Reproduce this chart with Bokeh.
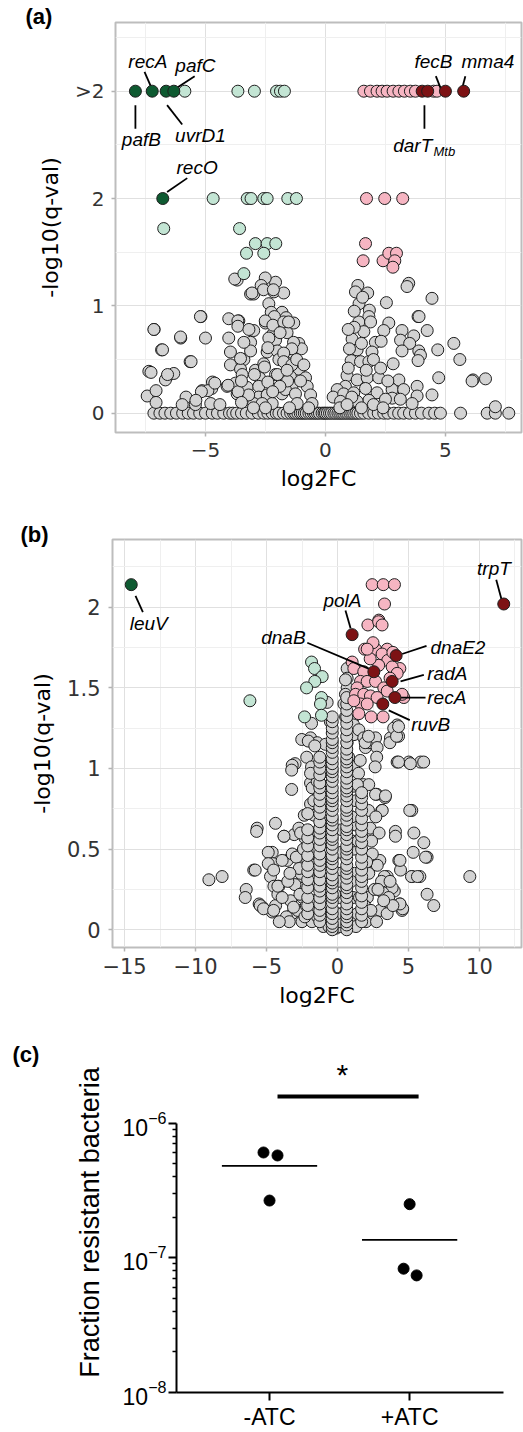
from bokeh.plotting import figure
from bokeh.layouts import column
from bokeh.models import Range1d, FixedTicker
from bokeh.core.properties import value
from bokeh.embed import file_html
from bokeh.resources import INLINE

# ======================= DATA =======================
# ---- Panel (a) ----
a_gray_base_x = [-7.15, -6.9, -6.69, -6.45, -6.21, -5.95, -5.72, -5.5, -5.24, -5.0, -4.72, -4.5, -4.24, -4.0,
                 -3.86, -3.7, -3.5, -3.3, -3.06, -2.8, -2.57, -2.4, -2.22, -2.05, -1.94, -1.75, -1.6, -1.45,
                 -1.33, -1.25, -1.15, -1.05, -0.97, -0.88, -0.8, -0.69, -0.6, -0.5, -0.42, -0.33, -0.25, -0.14,
                 -0.06, 0.0, 0.08, 0.17, 0.25, 0.35, 0.43, 0.52, 0.6, 0.68, 0.76, 0.85, 0.93, 1.02, 1.1, 1.18,
                 1.27, 1.35, 1.46, 1.6, 1.8, 2.01, 2.2, 2.43, 2.6, 2.85, 3.05, 3.26, 3.5, 3.75, 4.0, 4.31, 4.55,
                 4.79, 5.63, 6.74, 7.08, 7.64]
a_gray_pts = [
    (-7.43, 0.16), (-7.06, 0.21), (-7.06, 0.10), (-7.36, 0.39), (-6.6, 0.34), (-6.32, 0.37), (-6.67, 0.31),
    (-6.83, 0.59), (-7.14, 0.78), (-6.03, 0.70), (-5.64, 0.48), (-5.19, 0.90), (-5.0, 0.70), (-5.81, 0.15),
    (-5.97, 0.08), (-5.42, 0.08), (-5.14, 0.21), (-4.74, 0.23), (-4.71, 0.29), (-4.78, 0.09), (-4.10, 0.25),
    (-4.03, 0.70), (-4.03, 0.88), (-3.61, 0.86), (-3.96, 0.57), (-3.96, 0.45), (-3.40, 0.50), (-3.54, 0.41),
    (-3.75, 0.28), (-3.68, 0.18), (-3.47, 0.36), (-3.26, 0.24), (-3.12, 0.66), (-3.12, 0.58), (-2.92, 0.40),
    (-2.75, 0.33), (-2.78, 0.25), (-2.78, 0.15), (-2.99, 0.77), (-2.50, 0.84), (-2.57, 0.46), (-2.43, 0.57),
    (-2.36, 1.02), (-3.12, 1.11), (-2.99, 1.11), (-2.36, 1.19), (-2.15, 1.13), (-1.74, 1.12), (-2.08, 1.22),
    (-3.68, 1.24), (-2.15, 0.82), (-2.22, 0.73), (-2.08, 0.68), (-2.01, 0.58), (-1.94, 0.50), (-2.08, 0.36),
    (-1.81, 0.94), (-1.64, 0.89), (-1.32, 0.84), (-1.60, 0.75), (-1.46, 0.57), (-1.11, 0.65), (-1.00, 0.60),
    (-1.11, 0.41), (-1.46, 0.34), (-1.39, 0.26), (-1.81, 0.18), (-1.67, 0.22), (-1.25, 0.18), (-0.83, 0.33),
    (-0.76, 0.25), (-0.62, 0.17), (-0.56, 0.09), (-1.18, 0.09), (-2.43, 0.17), (-2.22, 0.09), (-2.99, 0.09),
    (-3.20, 0.17), (-2.64, 0.09),
    (-3.78, 1.25), (-2.51, 1.26), (-2.68, 1.19), (-3.06, 1.12), (-2.58, 1.15), (-2.17, 1.15), (-2.26, 0.94),
    (-2.13, 0.90), (-3.65, 0.86), (-3.65, 0.81), (-5.21, 0.90), (-7.15, 0.78), (-6.04, 0.71), (-6.79, 0.59),
    (-5.60, 0.48), (-7.27, 0.38), (-6.58, 0.36), (-2.51, 0.86), (-2.19, 0.82), (-1.74, 0.85), (-1.54, 0.85),
    (-1.89, 0.75), (-3.19, 0.78), (-3.40, 0.66), (-2.36, 0.70), (-2.40, 0.61), (-1.33, 0.66), (-1.40, 0.60),
    (-3.54, 0.51), (-1.74, 0.56), (-1.74, 0.48), (-1.40, 0.45), (-4.90, 0.21), (-5.17, 0.20), (-4.61, 0.28),
    (-4.06, 0.26), (-3.64, 0.20), (-3.50, 0.30), (-2.96, 0.36), (-2.54, 0.43), (-2.40, 0.29), (-2.00, 0.36),
    (-1.58, 0.30), (-1.04, 0.30), (-1.90, 0.25), (-2.20, 0.20), (-1.60, 0.40), (-1.20, 0.50), (-0.90, 0.45),
    (-0.70, 0.05), (-1.50, 0.05), (-2.50, 0.05), (-3.00, 0.05), (-3.50, 0.10), (-4.40, 0.08), (-5.40, 0.12),
    (1.35, 1.19), (1.25, 1.13), (1.76, 1.12), (3.47, 1.21), (3.40, 1.18), (2.54, 1.03), (4.44, 1.07),
    (1.83, 0.96), (1.81, 0.90), (1.39, 0.85), (1.88, 0.85), (2.64, 0.84), (3.86, 0.90), (1.60, 0.76),
    (2.43, 0.77), (3.19, 0.77), (3.68, 0.72), (4.24, 0.77), (1.11, 0.69), (2.08, 0.66), (2.32, 0.67),
    (3.13, 0.68), (3.51, 0.65), (5.35, 0.65), (1.32, 0.59), (1.94, 0.57), (3.19, 0.58), (3.89, 0.58),
    (3.96, 0.54), (4.68, 0.59), (1.07, 0.49), (1.46, 0.48), (1.81, 0.48), (2.82, 0.46), (3.86, 0.49),
    (5.60, 0.50), (0.90, 0.35), (1.32, 0.31), (1.74, 0.33), (2.22, 0.33), (3.06, 0.31), (4.72, 0.33),
    (6.15, 0.31), (6.67, 0.32), (6.11, 0.30), (3.82, 0.25), (4.44, 0.17), (0.83, 0.25), (0.49, 0.22),
    (0.32, 0.15), (0.76, 0.18), (1.18, 0.19), (1.67, 0.23), (2.15, 0.19), (2.78, 0.22), (3.26, 0.22),
    (2.78, 0.14), (3.82, 0.16), (2.50, 0.13), (1.81, 0.12), (1.32, 0.11), (3.61, 0.09), (0.63, 0.11),
    (3.12, 0.13), (7.08, 0.06), (3.90, 0.90), (0.95, 0.42), (1.00, 0.60), (1.20, 0.80), (1.50, 0.65),
    (1.70, 0.40), (2.00, 0.50), (2.30, 0.42), (2.60, 0.30), (1.10, 0.15), (1.50, 0.05), (2.00, 0.08),
    (2.40, 0.05), (0.60, 0.05), (0.90, 0.08), (1.40, 1.02), (1.55, 1.08), (1.20, 0.95), (0.95, 0.78),
]
a_lgreen_x = [-5.86, -3.65, -2.96, -2.04, -1.875, -1.71,
              -4.68, -3.26, -3.10, -2.57, -2.43, -1.57, -1.21,
              -6.74, -3.58, -2.92, -2.43, -2.07, -3.29, -2.57, -3.40]
a_lgreen_y = [3, 3, 3, 3, 3, 3,
              2, 2, 2, 2, 2, 2, 2,
              1.72, 1.72, 1.58, 1.58, 1.58, 1.49, 1.49, 1.30]
a_pink_x = [1.6, 1.875, 2.15, 2.36, 2.57, 2.82, 3.06, 3.29, 3.54, 3.75, 4.51, 4.65,
            1.71, 2.47, 3.22,
            1.67, 1.57, 2.40, 2.64, 2.96, 2.89, 2.81]
a_pink_y = [3, 3, 3, 3, 3, 3, 3, 3, 3, 3, 3, 3,
            2, 2, 2,
            1.58, 1.42, 1.42, 1.49, 1.49, 1.42, 1.36]
a_dgreen_genes = ["pafB", "recA", "uvrD1", "pafC", "recO"]
a_dgreen_x = [-7.92, -7.22, -6.64, -6.32, -6.78]
a_dgreen_y = [3, 3, 3, 3, 2]
a_dred_genes = ["darT", "darT", "fecB", "mma4"]
a_dred_x = [4.03, 4.26, 5.0, 5.76]
a_dred_y = [3, 3, 3, 3]
a_yticks = [0, 1, 2, 3]
a_ytick_labels = ["0", "1", "2", ">2"]

# ---- Panel (b) ----
b_gray_pts = [
    (0.68, 1.62), (0.68, 1.56), (0.68, 1.50), (0.56, 1.55), (0.56, 1.46), (0.45, 1.40), (-0.73, 1.41),
    (-0.5, 1.29), (-1.83, 1.28), (-1.9, 1.19), (-1.43, 1.16), (-0.85, 1.15), (0.57, 1.32), (0.92, 1.28),
    (1.13, 1.32), (1.13, 1.27), (0.68, 1.19), (1.15, 1.21), (1.5, 1.24), (1.85, 1.19), (1.97, 1.13),
    (2.2, 1.16), (2.68, 1.19), (2.79, 1.13), (3.73, 1.19), (4.2, 1.27), (3.96, 1.25), (4.3, 1.20),
    (4.2, 1.04), (5.02, 1.04), (5.85, 1.04), (-2.99, 1.03),
    (-3.19, 1.02), (-3.23, 0.99), (-3.23, 0.87), (-2.52, 1.18), (-2.06, 1.17), (-1.6, 1.14), (-2.17, 1.07),
    (-1.83, 1.01), (-1.48, 0.95), (-0.77, 0.98), (-1.9, 0.91), (-1.48, 0.89), (-0.77, 0.89), (-1.4, 0.82),
    (-1.9, 0.78), (-2.34, 0.71), (-1.64, 0.71), (-0.77, 0.73), (0.68, 1.16), (0.78, 1.07), (1.13, 1.01),
    (1.48, 0.97), (1.13, 0.89), (1.83, 0.90), (1.95, 1.16), (2.18, 1.20), (2.76, 1.07), (2.65, 1.01),
    (2.76, 0.84), (3.35, 0.82), (4.3, 1.04), (5.13, 1.03), (6.07, 1.04), (3.69, 1.16), (4.16, 1.20),
    (4.3, 1.26), (5.23, 0.74), (2.18, 0.74), (3.12, 0.74), (-4.37, 0.66), (-5.66, 0.63),
    (-5.7, 0.61), (-3.76, 0.58), (-3.05, 0.59), (-2.63, 0.62), (-2.3, 0.57), (-4.6, 0.48), (-4.55, 0.41),
    (-3.54, 0.43), (-2.84, 0.46), (-2.14, 0.49), (-5.9, 0.37), (-4.72, 0.33), (-4.48, 0.27), (-4.13, 0.27),
    (-9.06, 0.31), (-8.13, 0.33), (-6.43, 0.25), (-6.5, 0.20), (-5.52, 0.16), (-5.29, 0.14), (-4.36, 0.15),
    (-4.2, 0.22), (-4.6, 0.11), (-3.05, 0.11), (-2.46, 0.20), (-2.35, 0.26), (-2.46, 0.33), (-1.99, 0.37),
    (-2.1, 0.43), (-2.1, 0.72), (-1.67, 0.80), (-1.78, 0.88), (-1.43, 0.92), (-1.9, 0.97),
    (2.68, 0.84), (3.38, 0.83), (5.09, 0.74), (3.15, 0.74), (4.08, 0.61), (4.08, 0.58), (5.38, 0.60),
    (6.08, 0.54), (5.33, 0.48), (6.31, 0.45), (4.32, 0.43), (4.44, 0.37), (5.26, 0.33), (5.8, 0.33),
    (9.32, 0.33), (3.5, 0.33), (6.31, 0.22), (6.78, 0.15), (4.39, 0.16), (4.55, 0.12), (4.0, 0.24),
    (3.38, 0.26), (2.98, 0.43), (2.45, 0.47), (2.3, 0.63), (2.93, 0.60),
    (-5.8, 0.37), (-5.45, 0.15), (-5.21, 0.13), (-4.88, 0.48), (-4.88, 0.41), (-4.5, 0.37), (-4.2, 0.27),
    (-4.5, 0.12), (-3.9, 0.43), (-3.77, 0.58), (-3.19, 0.10), (-3.19, 0.47), (-2.72, 0.63), (4.4, 0.43),
    (4.59, 0.13), (4.4, 0.16), (6.2, 0.45), (5.21, 0.33), (5.63, 0.33), (3.3, 0.33), (3.85, 0.26),
    (3.19, 0.23),
    (-3.6, 0.08), (-3.3, 0.18), (-3.0, 0.28), (-2.8, 0.12), (-2.6, 0.35), (-2.5, 0.05), (-2.2, 0.15),
    (-2.0, 0.28), (-1.8, 0.05), (-1.7, 0.18), (-1.6, 0.40), (-1.5, 0.55), (-1.55, 0.30), (-1.0, 0.02),
    (-0.9, 0.15), (-0.85, 0.35), (-0.8, 0.50), (-0.75, 0.60), (-0.6, 0.02), (-0.1, 0.01), (0.2, 0.02),
    (0.3, 0.10), (1.0, 0.05), (1.1, 0.20), (1.2, 0.35), (1.15, 0.50), (1.25, 0.65), (1.3, 0.80),
    (1.4, 0.10), (2.0, 0.05), (2.1, 0.20), (2.2, 0.35), (2.5, 0.10), (2.6, 0.25), (2.8, 0.40),
    (3.0, 0.12), (3.1, 0.30), (3.5, 0.10), (3.6, 0.20), (3.9, 0.15), (-3.9, 0.20), (-3.5, 0.30),
    (-2.9, 0.45), (-2.4, 0.50), (-2.6, 0.60), (2.4, 0.55), (2.7, 0.70), (2.2, 0.90), (1.6, 1.05),
    (1.4, 0.90), (0.1, 0.05), (-0.05, 0.10), (0.15, 0.20), (1.0, 0.70), (1.05, 0.55), (0.2, 0.35),
    (-0.9, 0.62), (-0.85, 0.80),
    (-3.4, 0.05), (-3.1, 0.14), (-2.65, 0.22), (-2.3, 0.08), (-1.95, 0.12), (-1.4, 0.08), (-1.1, 0.25),
    (-0.95, 0.42), (-0.55, 0.08), (-0.2, 0.22), (0.05, 0.3), (0.25, 0.48), (0.3, 0.62), (0.95, 0.3),
    (1.3, 0.02), (1.55, 0.2), (1.9, 0.15), (2.35, 0.12), (2.75, 0.05), (3.25, 0.18), (3.7, 0.3),
    (2.85, 0.25), (2.05, 0.42), (1.45, 0.55), (-1.3, 0.62), (-2.7, 0.38), (-3.35, 0.35), (-4.1, 0.05),
]
# stacked columns of genes sharing the same log2FC
b_col_x = [-1.25, -0.37, 0.65, 1.7, -2.1]
b_col_ys = [
    [0.05, 0.09, 0.12, 0.16, 0.2, 0.24, 0.27, 0.31, 0.36, 0.4, 0.43, 0.47, 0.52, 0.56, 0.6, 0.63, 0.67,
     0.72, 0.76, 0.8, 0.84, 0.88, 0.91, 0.96, 1.0, 1.04, 1.07],
    [0.0, 0.02, 0.04, 0.07, 0.1, 0.13, 0.17, 0.2, 0.22, 0.26, 0.29, 0.31, 0.34, 0.38, 0.41, 0.44, 0.46,
     0.5, 0.53, 0.56, 0.58, 0.62, 0.65, 0.68, 0.7, 0.74, 0.77, 0.8, 0.82, 0.85, 0.88, 0.92, 0.95, 0.98,
     1.0, 1.03, 1.06, 1.1, 1.13, 1.16, 1.18, 1.22, 1.25, 1.29, 1.32],
    [0.0, 0.03, 0.05, 0.08, 0.1, 0.13, 0.16, 0.2, 0.23, 0.26, 0.28, 0.32, 0.35, 0.38, 0.4, 0.44, 0.47,
     0.5, 0.52, 0.56, 0.59, 0.62, 0.64, 0.68, 0.71, 0.74, 0.76, 0.8, 0.83, 0.86, 0.88, 0.91, 0.94, 0.98,
     1.01, 1.04, 1.06, 1.09, 1.12, 1.16, 1.2, 1.24, 1.28, 1.32, 1.36, 1.4, 1.44],
    [0.05, 0.09, 0.13, 0.17, 0.21, 0.26, 0.3, 0.33, 0.37, 0.41, 0.45, 0.5, 0.54, 0.58, 0.61, 0.65, 0.69,
     0.74, 0.78, 0.82, 0.85],
    [0.1, 0.15, 0.2, 0.26, 0.31, 0.36, 0.4, 0.46, 0.52, 0.57, 0.62],
]
b_lgreen_x = [-1.83, -1.62, -1.08, -1.6, -2.18, -6.17, -1.13, -1.2, -2.32, -1.13]
b_lgreen_y = [1.66, 1.62, 1.57, 1.54, 1.50, 1.42, 1.44, 1.40, 1.32, 1.33]
b_pink_x = [2.44, 3.22, 4.01, 3.31, 2.91, 2.14, 2.9, 3.14, 1.91, 2.68, 3.5, 3.14, 3.54, 4.39, 1.03, 1.15,
            1.85, 2.9, 3.85, 4.2, 1.62, 2.09, 2.68, 3.26, 1.38, 1.27, 1.85, 2.32, 2.79, 3.5, 4.67, 1.62,
            2.09, 1.15, 2.37, 3.21, 1.5, 4.55, 2.5, 3.9, 3.7, 2.3, 2.09]
b_pink_y = [2.14, 2.14, 2.14, 2.02, 1.92, 1.89, 1.91, 1.89, 1.74, 1.74, 1.74, 1.71, 1.67, 1.62, 1.66, 1.62,
            1.60, 1.64, 1.63, 1.59, 1.54, 1.54, 1.54, 1.50, 1.50, 1.46, 1.46, 1.45, 1.44, 1.48, 1.44, 1.40,
            1.40, 1.42, 1.32, 1.32, 1.34, 1.46, 1.78, 1.72, 1.56, 1.68, 1.74]
b_dgreen_genes = ["leuV"]
b_dgreen_x = [-14.53]
b_dgreen_y = [2.14]
b_dred_genes = ["polA", "dnaE2", "dnaB", "radA", "recA", "ruvB", "trpT"]
b_dred_x = [1.03, 4.13, 2.56, 3.85, 4.04, 3.19, 11.71]
b_dred_y = [1.83, 1.70, 1.60, 1.54, 1.44, 1.40, 2.02]

# ---- Panel (c) ----
c_groups = ["-ATC", "+ATC"]
c_minus = [6.05e-7, 5.75e-7, 2.66e-7]
c_plus = [2.5e-7, 8.3e-8, 7.4e-8]
c_jitter = [-0.043, 0.057, 0.0]
c_jitter_plus = [0.0, -0.043, 0.05]

# ======================= STYLE =======================
GRAY = "#d3d3d3"
LGREEN = "#c3e5d4"
PINK = "#f6b5c2"
DGREEN = "#0e5a31"
DRED = "#7d1214"
EDGE = "#1e1e1e"
TICKF = "DejaVu Sans"
GENEF = "Liberation Sans"
W = 523


def set_panel_title(p, txt, offset, standoff):
    p.title.text = txt
    p.title.align = "left"
    p.title.offset = offset
    p.title.standoff = standoff
    p.title.text_font = "Liberation Sans"
    p.title.text_font_style = "bold"
    p.title.text_font_size = "22px"
    p.title.text_color = "black"


def volcano(xr, yr, height, top, bottom, left, xt, xminor, yt, yminor, tick_fs):
    p = figure(width=W, height=height, x_range=Range1d(*xr), y_range=Range1d(*yr),
               output_backend="svg", toolbar_location=None, frame_align=False,
               min_border_left=left, min_border_right=2, min_border_top=top, min_border_bottom=bottom)
    p.background_fill_color = "white"
    p.border_fill_color = "white"
    p.outline_line_color = "#bdbdbd"
    p.outline_line_width = 2
    p.xaxis.ticker = FixedTicker(ticks=xt, minor_ticks=xminor)
    p.yaxis.ticker = FixedTicker(ticks=yt, minor_ticks=yminor)
    for g in (p.xgrid, p.ygrid):
        g.grid_line_color = "#e0e0e0"
        g.grid_line_width = 1
        g.minor_grid_line_color = "#efefef"
        g.minor_grid_line_width = 1
    for ax in (p.xaxis, p.yaxis):
        ax.axis_line_color = None
        ax.major_tick_line_color = "#b3b3b3"
        ax.major_tick_line_width = 1.5
        ax.major_tick_out = 4
        ax.major_tick_in = 0
        ax.minor_tick_line_color = None
        ax.major_label_text_font = TICKF
        ax.major_label_text_font_size = tick_fs
        ax.major_label_text_color = "#333333"
        ax.axis_label_text_font = TICKF
        ax.axis_label_text_font_size = "22px"
        ax.axis_label_text_font_style = "normal"
        ax.axis_label_text_color = "black"
    p.xaxis.axis_label = "log2FC"
    p.yaxis.axis_label = "-log10(q-val)"
    p.xaxis.major_label_standoff = 6
    p.xaxis.axis_label_standoff = 6
    p.yaxis.major_label_standoff = 7
    p.yaxis.axis_label_standoff = 9
    return p


def dots(p, x, y, color):
    p.scatter(x, y, size=12, fill_color=color, line_color=EDGE, line_width=1)


def gene_text(p, x, y, txt, align="center", size="19px", yoff=0):
    p.text(x=x, y=y, text=txt, text_font=value(GENEF), text_font_style="italic",
           text_font_size=size, text_align=align, text_baseline="middle", text_color="black",
           y_offset=yoff)


def leaders(p, x0, y0, x1, y1):
    p.segment(x0=x0, y0=y0, x1=x1, y1=y1, line_color="black", line_width=1.8)


# ======================= PANEL A =======================
pa = volcano((-8.75, 8.17), (-0.18, 3.64), 505, 22, 73, 115,
             [-5, 0, 5], [-7.5, -2.5, 2.5, 7.5], a_yticks, [0.5, 1.5, 2.5, 3.5], "20px")
set_panel_title(pa, "(a)", -90, -12)
pa.yaxis.major_label_overrides = dict(zip(a_yticks, a_ytick_labels))
dots(pa, a_gray_base_x, [0] * len(a_gray_base_x), GRAY)
dots(pa, [q[0] for q in a_gray_pts], [q[1] for q in a_gray_pts], GRAY)
dots(pa, a_lgreen_x, a_lgreen_y, LGREEN)
dots(pa, a_pink_x, a_pink_y, PINK)
leaders(pa,
        [-7.25, -6.14, -7.92, -6.6, -6.6, 4.9, 5.63, 4.125],
        [3.03, 3.04, 2.87, 2.87, 2.06, 2.97, 2.97, 2.87],
        [-7.54, -5.45, -7.92, -5.97, -5.76, 4.6, 5.83, 4.125],
        [3.18, 3.14, 2.65, 2.69, 2.19, 3.14, 3.14, 2.65])
dots(pa, a_dgreen_x, a_dgreen_y, DGREEN)
dots(pa, a_dred_x, a_dred_y, DRED)
gene_text(pa, [-7.40, -5.42, -7.67, -5.21, -5.35, 4.5, 6.77],
          [3.28, 3.24, 2.55, 2.59, 2.29, 3.28, 3.28],
          ["recA", "pafC", "pafB", "uvrD1", "recO", "fecB", "mma4"])
gene_text(pa, [4.45], [2.49], ["darT"], align="right")
gene_text(pa, [4.5], [2.49], ["Mtb"], align="left", size="13px", yoff=6)

# ======================= PANEL B =======================
pb = volcano((-15.85, 12.96), (-0.11, 2.42), 525, 34, 83, 112,
             [-15, -10, -5, 0, 5, 10], [-12.5, -7.5, -2.5, 2.5, 7.5, 12.5],
             [0, 0.5, 1, 1.5, 2], [0.25, 0.75, 1.25, 1.75, 2.25], "21px")
set_panel_title(pb, "(b)", -92, -14)
pb.yaxis.major_label_overrides = {0: "0", 1: "1", 2: "2"}
pb.yaxis.major_label_standoff = 8
pb.yaxis.axis_label_standoff = 9
bx = [q[0] for q in b_gray_pts]
by = [q[1] for q in b_gray_pts]
for cx, ys in zip(b_col_x, b_col_ys):
    bx += [cx] * len(ys)
    by += ys
dots(pb, bx, by, GRAY)
dots(pb, b_lgreen_x, b_lgreen_y, LGREEN)
dots(pb, b_pink_x, b_pink_y, PINK)
leaders(pb,
        [-14.23, 11.55, 0.92, 2.44, 4.55, 4.44, 4.44, 3.61],
        [2.07, 2.05, 1.87, 1.61, 1.71, 1.54, 1.44, 1.36],
        [-13.71, 11.18, 0.56, -2.13, 6.27, 6.08, 6.2, 5.09],
        [1.97, 2.17, 1.98, 1.78, 1.76, 1.58, 1.44, 1.30])
dots(pb, b_dgreen_x, b_dgreen_y, DGREEN)
dots(pb, b_dred_x, b_dred_y, DRED)
gene_text(pb, [-13.3, 11.02, 0.35], [1.90, 2.24, 2.04], ["leuV", "trpT", "polA"])
gene_text(pb, [-2.25], [1.81], ["dnaB"], align="right")
gene_text(pb, [6.55, 6.32, 6.32, 5.19], [1.75, 1.59, 1.44, 1.27],
          ["dnaE2", "radA", "recA", "ruvB"], align="left")

# ======================= PANEL C =======================
pc = figure(width=W, height=402, x_range=Range1d(0.336, 2.67), y_range=Range1d(1e-8, 10 ** -5.476),
            y_axis_type="log", output_backend="svg", toolbar_location=None, frame_align=False,
            min_border_left=176, min_border_right=20, min_border_top=22, min_border_bottom=38)
set_panel_title(pc, "(c)", -164, -28)
pc.background_fill_color = "white"
pc.border_fill_color = "white"
pc.outline_line_color = None
pc.grid.visible = False
pc.yaxis.ticker = FixedTicker(ticks=[1e-8, 1e-7, 1e-6],
                              minor_ticks=[m * 10.0 ** e for e in (-8, -7) for m in range(2, 10)])
pc.yaxis.bounds = (1e-8, 1e-6)
pc.xaxis.ticker = FixedTicker(ticks=[1, 2], minor_ticks=[])
pc.xaxis.major_label_overrides = {1: c_groups[0], 2: c_groups[1]}
for ax in (pc.xaxis, pc.yaxis):
    ax.axis_line_color = "black"
    ax.axis_line_width = 2
    ax.major_tick_line_color = "black"
    ax.major_tick_line_width = 2
    ax.major_tick_out = 8
    ax.major_tick_in = 0
    ax.minor_tick_line_color = "black"
    ax.minor_tick_line_width = 1.5
    ax.minor_tick_out = 4
    ax.minor_tick_in = 0
    ax.major_label_text_font = "Liberation Sans"
    ax.major_label_text_color = "black"
pc.xaxis.minor_tick_line_color = None
pc.xaxis.major_label_text_font_size = "23px"
pc.xaxis.major_label_standoff = 3
pc.yaxis.major_label_text_font_size = "23px"
pc.yaxis.major_label_standoff = 2
pc.yaxis.axis_label = "Fraction resistant bacteria"
pc.yaxis.axis_label_text_font = "Liberation Sans"
pc.yaxis.axis_label_text_font_size = "27px"
pc.yaxis.axis_label_text_font_style = "normal"
pc.yaxis.axis_label_text_color = "black"
pc.yaxis.axis_label_standoff = 15

pc.scatter([1 + j for j in c_jitter], c_minus, size=11, fill_color="black", line_color="black")
pc.scatter([2 + j for j in c_jitter_plus], c_plus, size=11, fill_color="black", line_color="black")
means = [sum(c_minus) / len(c_minus), sum(c_plus) / len(c_plus)]
pc.segment(x0=[1 - 0.34, 2 - 0.34], x1=[1 + 0.34, 2 + 0.34], y0=means, y1=means,
           line_color="black", line_width=1.7)
sig_y = max(c_minus) * 2.6
pc.segment(x0=[1.057], x1=[2.064], y0=[sig_y], y1=[sig_y], line_color="black", line_width=4)
pc.text(x=[1.52], y=[sig_y * 1.45], text=["*"], text_font=value("Liberation Sans"),
        text_font_size="30px", text_align="center", text_baseline="middle", text_color="black")

layout = column(pa, pb, pc, spacing=0)
open("out.html", "w").write(file_html(layout, INLINE))
